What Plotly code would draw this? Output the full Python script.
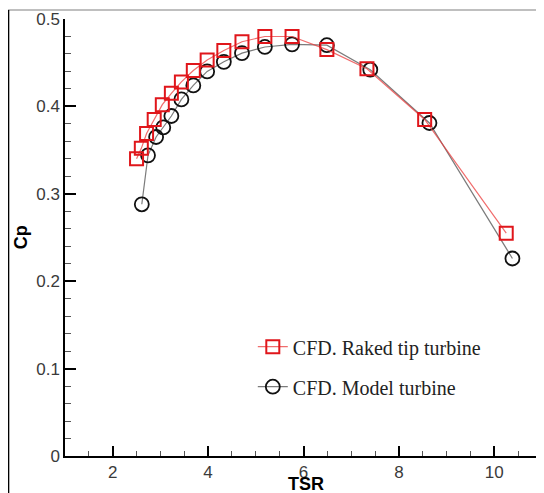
import plotly.graph_objects as go

# CFD results
tsr_raked = [2.50, 2.60, 2.71, 2.87, 3.04, 3.23, 3.44, 3.69, 3.98, 4.33, 4.71,
             5.19, 5.76, 6.49, 7.33, 8.54, 10.25]
cp_raked = [0.340, 0.352, 0.369, 0.385, 0.402, 0.415, 0.428, 0.441, 0.453, 0.464,
            0.474, 0.480, 0.480, 0.465, 0.443, 0.385, 0.255]

tsr_model = [2.61, 2.74, 2.91, 3.06, 3.23, 3.44, 3.69, 3.98, 4.33, 4.71, 5.19,
             5.76, 6.49, 7.40, 8.64, 10.38]
cp_model = [0.288, 0.344, 0.365, 0.376, 0.389, 0.408, 0.424, 0.440, 0.451, 0.461,
            0.468, 0.471, 0.470, 0.442, 0.381, 0.226]

# the page body has an 8px margin, so the figure is made 8px smaller
OFF = 8
W, H = 544 - OFF, 493 - OFF
ML, MR, MT, MB = 57, 1.5, 11, 37.3
pw = W - ML - MR
ph = H - MT - MB

# screenshot pixel -> paper helpers, used for the frame, legend and titles
def px(x):
    return (x - OFF - ML) / pw

def py(y):
    return (H - MB - (y - OFF)) / ph

fig = go.Figure()

fig.add_trace(go.Scatter(
    x=tsr_model, y=cp_model, mode='lines+markers',
    name='CFD. Model turbine', legendgroup='b', legendrank=2,
    line=dict(color='rgba(90,90,90,0.8)', width=1.2),
    marker=dict(symbol='circle-open', size=14, color='#111111', line=dict(width=1.8)),
))
fig.add_trace(go.Scatter(
    x=tsr_raked, y=cp_raked, mode='lines+markers',
    name='CFD. Raked tip turbine', legendgroup='a', legendrank=1,
    line=dict(color='rgba(235,60,60,0.75)', width=1.2),
    marker=dict(symbol='square-open', size=13, color='#e0161b', line=dict(width=2)),
))

tickfont = dict(family='Arial, Liberation Sans', size=17, color='#3a3a3a')
titlefont = dict(family='Arial, Liberation Sans', size=18, color='black')

fig.update_xaxes(
    range=[1, 11], tick0=0, dtick=2, ticks='inside', ticklen=10, tickwidth=1.5,
    tickcolor='black', showline=True, linecolor='black', linewidth=1.5,
    showgrid=False, zeroline=False, tickfont=tickfont, automargin=False,
    minor=dict(dtick=0.5, ticks='inside', ticklen=5, tickcolor='#555555', tickwidth=1),
)
fig.update_yaxes(
    range=[0, 0.5], tick0=0, dtick=0.1, ticks='inside', ticklen=11, tickwidth=1.5,
    tickcolor='black', showline=True, linecolor='black', linewidth=1.5,
    showgrid=False, zeroline=False, tickfont=tickfont, tickformat='~g',
    automargin=False,
    minor=dict(dtick=0.02, ticks='inside', ticklen=6, tickcolor='#555555', tickwidth=1),
)

# axis titles
fig.add_annotation(text='<b>TSR</b>', xref='paper', yref='paper',
                   x=px(306), y=py(484), showarrow=False, font=titlefont,
                   xanchor='center', yanchor='middle')
fig.add_annotation(text='<b>Cp</b>', xref='paper', yref='paper',
                   x=px(21), y=py(237), showarrow=False, font=titlefont,
                   textangle=-90, xanchor='center', yanchor='middle')

# outer frame of the original screenshot
fig.add_shape(type='line', xref='paper', yref='paper',
              x0=px(8), x1=px(560), y0=py(10), y1=py(10),
              line=dict(color='#aaaaaa', width=1.5))
fig.add_shape(type='line', xref='paper', yref='paper',
              x0=px(8.5), x1=px(8.5), y0=py(10), y1=py(500),
              line=dict(color='black', width=1.5))

fig.update_layout(
    width=W, height=H,
    margin=dict(l=ML, r=MR, t=MT, b=MB, autoexpand=False),
    plot_bgcolor='white', paper_bgcolor='white',
    showlegend=True,
    legend=dict(
        x=px(253), y=py(327), xanchor='left', yanchor='top',
        bgcolor='rgba(0,0,0,0)', tracegroupgap=11,
        font=dict(family='Times New Roman, Liberation Serif', size=20, color='#222222'),
    ),
)

fig.write_html("out.html")
